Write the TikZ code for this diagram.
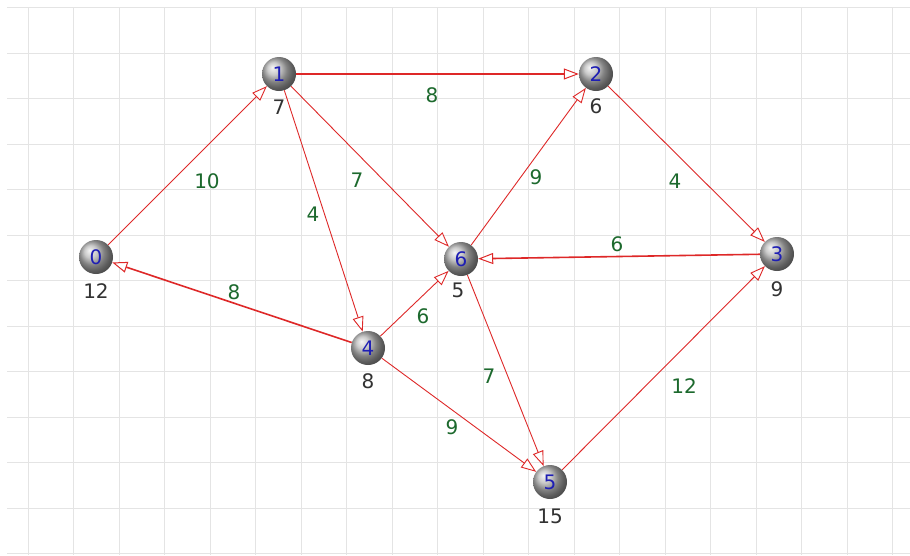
\documentclass[tikz,border=0pt]{standalone}
\usepackage{fontspec}
\setmainfont{DejaVu Sans}
\usetikzlibrary{arrows.meta,shapes.geometric}
\definecolor{gridc}{RGB}{228,228,228}
\definecolor{edgec}{RGB}{222,40,40}
\definecolor{wgreen}{RGB}{28,105,45}
\definecolor{numblue}{RGB}{30,30,180}
\definecolor{lblgray}{RGB}{50,50,50}
\tikzset{
  ball/.style={circle,minimum size=34pt,inner sep=0pt,shading=ball,ball color=gray!55,
    font=\fontsize{20}{20}\selectfont,text=numblue},
  below/.style={font=\fontsize{20}{20}\selectfont,text=lblgray,inner sep=0pt},
  wt/.style={font=\fontsize{20}{20}\selectfont,text=wgreen,inner sep=0pt},
  edge/.style={draw=edgec,line width=0.9pt,-{Triangle[length=15pt,width=11pt,fill=white,line width=0.9pt]}},
  thick edge/.style={edge,line width=1.6pt,-{Triangle[length=15pt,width=11pt,fill=white,line width=1pt]}}
}
\begin{document}
\begin{tikzpicture}[x=1pt,y=-1pt]
\useasboundingbox[fill=white] (0,0) rectangle (910,555);
% grid
\foreach \k in {0,...,19} \draw[gridc,line width=1pt] ({28+45.5*\k},7) -- ({28+45.5*\k},555);
\foreach \k in {0,...,12} \draw[gridc,line width=1pt] (7,{7.5+45.5*\k}) -- (910,{7.5+45.5*\k});
% nodes
\node[ball] (n0) at (96,257) {0};
\node[ball] (n1) at (279,74) {1};
\node[ball] (n2) at (596,74) {2};
\node[ball] (n3) at (777,254) {3};
\node[ball] (n4) at (368,348) {4};
\node[ball] (n5) at (550,482) {5};
\node[ball] (n6) at (461,259) {6};
% labels below nodes
\node[below] (l0) at (96,291) {12};
\node[below] (l1) at (279,107) {7};
\node[below] (l2) at (596,106) {6};
\node[below] (l3) at (777,289) {9};
\node[below] (l4) at (368,381) {8};
\node[below] (l5) at (550,516) {15};
\node[below] (l6) at (458,290) {5};
% edges
\draw[edge] (n0) -- (n1);
\draw[thick edge] (n1) -- (n2);
\draw[edge] (n1) -- (n4);
\draw[edge] (n1) -- (n6);
\draw[edge] (n6) -- (n2);
\draw[edge] (n2) -- (n3);
\draw[thick edge] (n3) -- (n6);
\draw[thick edge] (n4) -- (n0);
\draw[edge] (n4) -- (n6);
\draw[edge] (n4) -- (n5);
\draw[edge] (n6) -- (n5);
\draw[edge] (n5) -- (n3);
% weights
\node[wt] (w12) at (432,95) {8};
\node[wt] (w01) at (207,181) {10};
\node[wt] (w14) at (313,214) {4};
\node[wt] (w16) at (357,180) {7};
\node[wt] (w62) at (536,177) {9};
\node[wt] (w23) at (675,181) {4};
\node[wt] (w36) at (617,244) {6};
\node[wt] (w40) at (234,292) {8};
\node[wt] (w46) at (423,316) {6};
\node[wt] (w45) at (452,427) {9};
\node[wt] (w65) at (489,376) {7};
\node[wt] (w53) at (684,386) {12};
\end{tikzpicture}
\end{document}
